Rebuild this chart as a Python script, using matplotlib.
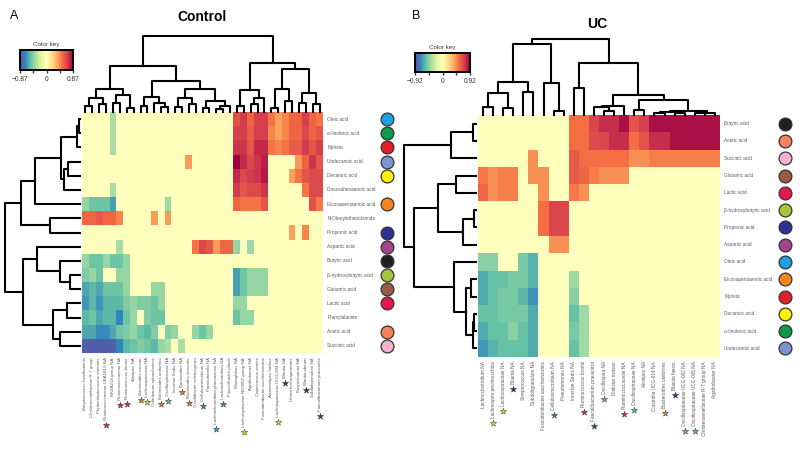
import numpy as np
import matplotlib
matplotlib.use('Agg')
import matplotlib.pyplot as plt
from matplotlib import colors, cm
from matplotlib.transforms import blended_transform_factory

plt.rcParams['font.family'] = ['Liberation Sans', 'DejaVu Sans']

# ---------------- data: Control ----------------
ctrl_rows = ['Oleic acid', 'α-linolenic acid', 'Myristic', 'Undecanoic acid', 'Decanoic acid',
             'Docosahexaenoic acid', 'Eicosapentaenoic acid', 'N-Oleoylethanolamide', 'Propionic acid',
             'Aspartic acid', 'Butyric acid', 'β-hydroxybutyric acid', 'Glutamic acid', 'Lactic acid',
             'Phenylalanine', 'Acetic acid', 'Succinic acid']

ctrl_cols = ['Butyricicoccus faecihominis', 'Christensenellaceae R-7 group', 'Peptostreptococcus stomatis',
             'Ruminococcaceae UBA1819 NA', 'NK4A214 group NA', 'Ruminococcaceae NA', 'Ruminococcus bromii',
             'Alistipes NA', 'Bacteroides caccae', 'Lachnospiraceae NA', 'Odoribacter splanchnicus',
             'Bacteroides uniformis', 'Oscillospiraceae NA', 'Incertae Sedis NA', 'Bacteroides NA',
             'Bacteroides stercoris', 'Oscillibacter valericigenes', 'Cellulosimicrobium NA',
             'Parasutterella NA', 'Lachnoclostridium phocaeense NA', 'Lachnoclostridium NA',
             'Flavonifractor plautii', 'Monoglobus NA', 'Lachnospiraceae ND3007 group NA',
             'Agathobacter NA', 'Coprococcus comes', 'Fusicatenibacter saccharivorans',
             'Anaerostipes hadrus', 'Lachnospiraceae UCG-004 NA', 'Blautia NA', 'Dorea formicigenerans',
             'Butyricimonas NA', 'Blautia obeum', 'Subdoligranulum NA', 'Faecalibacterium prausnitzii']

# non-zero correlations (row index -> {column index: r})
ctrl_cells = [
    {4: -0.35, 22: 0.62, 23: 0.7, 24: 0.55, 25: 0.68, 26: 0.68, 27: 0.5, 28: 0.38, 29: 0.45, 30: 0.55, 31: 0.55, 32: 0.68, 33: 0.55, 34: 0.5},
    {4: -0.35, 22: 0.68, 23: 0.68, 24: 0.58, 25: 0.68, 26: 0.68, 27: 0.45, 28: 0.38, 29: 0.45, 30: 0.55, 31: 0.55, 32: 0.65, 33: 0.55, 34: 0.6},
    {4: -0.35, 22: 0.72, 23: 0.72, 24: 0.6, 25: 0.75, 26: 0.75, 27: 0.5, 28: 0.45, 29: 0.5, 30: 0.58, 31: 0.58, 32: 0.7, 33: 0.6, 34: 0.68},
    {15: 0.4, 22: 0.87, 23: 0.75, 24: 0.65, 25: 0.72, 26: 0.78, 31: 0.4, 32: 0.55, 33: 0.72, 34: 0.6},
    {22: 0.75, 23: 0.65, 24: 0.7, 25: 0.72, 26: 0.8, 30: 0.38, 31: 0.5, 32: 0.6, 33: 0.65, 34: 0.65},
    {4: -0.35, 22: 0.7, 23: 0.6, 24: 0.65, 25: 0.65, 26: 0.72, 32: 0.5, 33: 0.65, 34: 0.65},
    {0: -0.4, 1: -0.5, 2: -0.5, 3: -0.5, 4: -0.62, 12: -0.38, 22: 0.55, 23: 0.5, 24: 0.5, 25: 0.5, 26: 0.6, 33: 0.62, 34: 0.5},
    {0: 0.55, 1: 0.55, 2: 0.6, 3: 0.55, 4: 0.55, 5: 0.45, 10: 0.4, 12: 0.4},
    {30: 0.38, 32: 0.45},
    {5: -0.35, 16: 0.5, 17: 0.65, 18: 0.6, 19: 0.4, 20: 0.55, 21: 0.55, 22: -0.4, 24: -0.38},
    {0: -0.4, 1: -0.5, 2: -0.5, 3: -0.4, 4: -0.5, 5: -0.5, 6: -0.4},
    {0: -0.45, 1: -0.4, 2: -0.5, 5: -0.4, 6: -0.4, 22: -0.62, 23: -0.5, 24: -0.4, 25: -0.4, 26: -0.4},
    {0: -0.6, 1: -0.55, 2: -0.6, 3: -0.5, 4: -0.5, 5: -0.5, 6: -0.4, 10: -0.4, 11: -0.4, 22: -0.62, 23: -0.5, 24: -0.4, 25: -0.4, 26: -0.4},
    {0: -0.65, 1: -0.55, 2: -0.65, 3: -0.55, 4: -0.55, 5: -0.55, 6: -0.45, 7: -0.4, 8: -0.45, 9: -0.45, 10: -0.5, 11: -0.4, 22: -0.4, 23: -0.4},
    {0: -0.55, 1: -0.5, 2: -0.6, 3: -0.55, 4: -0.55, 5: -0.7, 6: -0.5, 7: -0.4, 9: -0.45, 10: -0.5, 11: -0.5, 22: -0.5, 23: -0.4, 24: -0.4},
    {0: -0.6, 1: -0.6, 2: -0.68, 3: -0.68, 4: -0.6, 5: -0.5, 6: -0.45, 7: -0.4, 8: -0.5, 9: -0.55, 10: -0.45, 12: -0.45, 13: -0.4, 16: -0.4, 17: -0.5, 18: -0.4},
    {0: -0.82, 1: -0.82, 2: -0.82, 3: -0.82, 4: -0.82, 5: -0.7, 6: -0.55, 7: -0.5, 8: -0.45, 9: -0.5, 10: -0.55, 11: -0.4, 12: -0.35, 14: -0.35},
]

ctrl_stars = {3: 'crimson', 5: 'crimson', 6: 'crimson', 8: 'orange', 9: 'yellow', 11: 'orange',
              12: 'teal', 14: 'orange', 15: 'orange', 17: 'green', 19: 'blue', 20: 'blue',
              23: 'yellow', 28: 'yellow', 29: 'navy', 32: 'navy', 34: 'darkgreen'}

# dendrograms: [left, right, height], leaves are display positions
ctrl_col_tree = [
    [[[[0, 1, 0.08], [2, 3, 0.1], 0.19], [[4, 5, 0.12], [6, 7, 0.05], 0.22], 0.3],
     [[[8, 9, 0.08], [10, [11, 12, 0.06], 0.12], 0.2],
      [[[13, 14, 0.07], [15, 16, 0.1], 0.18], [[17, 18, 0.05], [[19, 20, 0.04], 21, 0.08], 0.15], 0.3], 0.41], 0.6],
    [[[22, 23, 0.08], [[24, 25, 0.1], 26, 0.18], 0.29],
     [[[27, 28, 0.05], [29, 30, 0.15], 0.3], [[31, 32, 0.12], [33, 34, 0.1], 0.25], 0.56], 0.64],
    1.0]
ctrl_row_tree = [
    [[[[[0, 1, 0.015], 2, 0.04], [[3, 4, 0.16], 5, 0.22], 0.26], 6, 0.6], [7, 8, 0.4], 0.79],
    [[9, [10, [11, 12, 0.13], 0.27], 0.57], [[13, 14, 0.17], [15, 16, 0.27], 0.36], 0.76],
    1.0]

# ---------------- data: UC ----------------
uc_rows = ['Butyric acid', 'Acetic acid', 'Succinic acid', 'Glutamic acid', 'Lactic acid',
           'β-hydroxybutyric acid', 'Propionic acid', 'Aspartic acid', 'Oleic acid',
           'Eicosapentaenoic acid', 'Myristic', 'Decanoic acid', 'α-linolenic acid', 'Undecanoic acid']

uc_cols = ['Lachnoclostridium NA', 'Lachnospira pectinoschiza', 'Lachnospiraceae NA', 'Blautia NA',
           'Streptococcus NA', 'Subdoligranulum NA', 'Fusicatenibacter saccharivorans',
           'Cellulosimicrobium NA', 'Pseudomonas NA', 'Incertae Sedis NA', 'Ruminococcus bromii',
           'Faecalibacterium prausnitzii', 'Oscillospira NA', 'Dialister invisus', 'Ruminococcaceae NA',
           'Oscillospiraceae NA', 'Alistipes NA', 'Clostridia UCG-014 NA', 'Bacteroides uniformis',
           'Blautia faecis', 'Oscillospiraceae UCG-002 NA', 'Oscillospiraceae UCG-005 NA',
           'Christensenellaceae R-7 group NA', 'Agathobacter NA']

uc_cells = [
    {9: 0.55, 10: 0.55, 11: 0.7, 12: 0.78, 13: 0.78, 14: 0.87, 15: 0.65, 16: 0.72, 17: 0.87, 18: 0.87, 19: 0.87, 20: 0.87, 21: 0.87, 22: 0.87, 23: 0.87},
    {9: 0.55, 10: 0.55, 11: 0.68, 12: 0.7, 13: 0.78, 14: 0.78, 15: 0.55, 16: 0.65, 17: 0.78, 18: 0.78, 19: 0.87, 20: 0.87, 21: 0.87, 22: 0.87, 23: 0.87},
    {5: 0.45, 9: 0.62, 10: 0.55, 11: 0.55, 12: 0.55, 13: 0.55, 14: 0.55, 15: 0.45, 16: 0.45, 17: 0.5, 18: 0.5, 19: 0.5, 20: 0.5, 21: 0.5, 22: 0.5, 23: 0.5},
    {0: 0.52, 1: 0.45, 2: 0.5, 3: 0.5, 5: 0.45, 6: 0.45, 9: 0.62, 10: 0.58, 11: 0.5, 12: 0.45, 13: 0.45, 14: 0.45},
    {0: 0.58, 1: 0.45, 2: 0.5, 3: 0.5, 6: 0.45, 9: 0.52, 10: 0.45},
    {6: 0.55, 7: 0.7, 8: 0.7},
    {6: 0.55, 7: 0.7, 8: 0.7},
    {7: 0.45, 8: 0.45},
    {0: -0.45, 1: -0.45, 4: -0.5, 5: -0.6},
    {0: -0.62, 1: -0.55, 2: -0.55, 3: -0.5, 4: -0.5, 5: -0.6, 9: -0.4},
    {0: -0.62, 1: -0.55, 2: -0.5, 3: -0.5, 4: -0.58, 5: -0.7, 9: -0.45},
    {0: -0.55, 1: -0.55, 2: -0.5, 3: -0.5, 4: -0.5, 5: -0.62, 9: -0.55, 10: -0.4},
    {0: -0.62, 1: -0.55, 2: -0.55, 3: -0.45, 4: -0.55, 5: -0.62, 9: -0.5, 10: -0.4},
    {0: -0.68, 1: -0.6, 2: -0.55, 3: -0.55, 4: -0.55, 5: -0.62, 9: -0.55, 10: -0.4},
]

uc_stars = {1: 'yellow', 2: 'yellow', 3: 'navy', 7: 'green', 10: 'crimson', 11: 'darkgreen',
            12: 'teal', 14: 'crimson', 15: 'teal', 18: 'orange', 19: 'navy', 20: 'teal', 21: 'teal'}

uc_col_tree = [
    [[[[0, 1, 0.1], [2, 3, 0.09], 0.29], [4, 5, 0.3], 0.43], [6, [7, 8, 0.05], 0.42], 0.93],
    [[9, 10, 0.35],
     [[[11, [12, 13, 0.05], 0.1], 14, 0.12],
      [[15, 16, 0.06], [[[17, 18, 0.03], [19, 20, 0.03], 0.04], [[21, 22, 0.02], 23, 0.03], 0.05], 0.2], 0.26], 0.68],
    1.0]
uc_row_tree = [
    [[0, 1, 0.04], 2, 0.35],
    [[[3, 4, 0.28], [[5, 6, 0.03], 7, 0.18], 0.53],
     [8, [[9, 10, 0.07], [[11, 12, 0.03], 13, 0.04], 0.14], 0.31], 0.86],
    1.0]

# colours of metabolites (circles) and taxa stars
metab_colors = {'Oleic acid': '#1ba1e2', 'α-linolenic acid': '#0f9a47', 'Myristic': '#e31f26',
                'Undecanoic acid': '#7b93d0', 'Decanoic acid': '#fff200', 'Eicosapentaenoic acid': '#f6851f',
                'Propionic acid': '#2e3192', 'Aspartic acid': '#a4448e', 'Butyric acid': '#231f20',
                'β-hydroxybutyric acid': '#a6c73a', 'Glutamic acid': '#9b5a44', 'Lactic acid': '#e8174f',
                'Acetic acid': '#f4845f', 'Succinic acid': '#f5b1d0'}
star_colors = {'crimson': '#e0204f', 'orange': '#e8852a', 'yellow': '#f3e21f', 'teal': '#5cbfa8',
               'green': '#2a9a48', 'blue': '#2a9ad8', 'navy': '#2c2a80', 'darkgreen': '#0d5a3a'}

W, H = 800, 450
cmap = plt.get_cmap('Spectral_r')


def px_axes(fig, x0, y0, x1, y1):
    return fig.add_axes([x0 / W, 1 - y1 / H, (x1 - x0) / W, (y1 - y0) / H])


def draw_tree(ax, node, orient):
    if isinstance(node, int):
        return node + 0.5, 0.0
    left, right, h = node
    pl, hl = draw_tree(ax, left, orient)
    pr, hr = draw_tree(ax, right, orient)
    if orient == 'top':
        ax.plot([pl, pl, pr, pr], [hl, h, h, hr], color='black', lw=1.5, clip_on=False)
    else:
        ax.plot([hl, h, h, hr], [pl, pl, pr, pr], color='black', lw=1.5, clip_on=False)
    return (pl + pr) / 2, h


def to_matrix(cells, ncol):
    mat = np.zeros((len(cells), ncol))
    for i, row in enumerate(cells):
        for j, v in row.items():
            mat[i, j] = v
    return mat


def panel(fig, rows, cols, cells, stars, col_tree, row_tree, box, vmax, circle_off, col_fs):
    x0, y0, x1, y1, dend_w, dend_h = box
    mat = to_matrix(cells, len(cols))
    ax = px_axes(fig, x0, y0, x1, y1)
    ax.imshow(mat, cmap=cmap, vmin=-vmax, vmax=vmax, aspect='auto', interpolation='nearest')
    ax.axis('off')

    # top dendrogram
    axt = px_axes(fig, x0, y0 - dend_h, x1, y0)
    draw_tree(axt, col_tree, 'top')
    axt.set_xlim(0, len(cols))
    axt.set_ylim(0, 1)
    axt.axis('off')

    # left dendrogram
    axl = px_axes(fig, x0 - 2 - dend_w, y0, x0 - 2, y1)
    draw_tree(axl, row_tree, 'left')
    axl.set_xlim(1, 0)
    axl.set_ylim(len(rows), 0)
    axl.axis('off')

    # row labels and metabolite circles
    tr = blended_transform_factory(ax.transAxes, ax.transData)
    for i, name in enumerate(rows):
        ax.annotate(name, xy=(1, i), xycoords=tr, xytext=(3, 0), textcoords='offset points',
                    ha='left', va='center', fontsize=3.4, color='#5a5a5a')
        if name in metab_colors:
            ax.scatter([1 + circle_off], [i], s=85, color=metab_colors[name], edgecolor='#333333',
                       lw=0.9, transform=tr, clip_on=False, zorder=5)

    # column labels
    trc = blended_transform_factory(ax.transData, ax.transAxes)
    labels = []
    for j, name in enumerate(cols):
        t = ax.annotate(name, xy=(j, 0), xycoords=trc, xytext=(0, -3), textcoords='offset points',
                        ha='center', va='top', rotation=90, fontsize=col_fs, color='#5a5a5a')
        labels.append(t)

    # stars under labels of associated taxa
    fig.canvas.draw()
    rend = fig.canvas.get_renderer()
    for j, key in stars.items():
        bb = labels[j].get_window_extent(renderer=rend)
        yb = ax.transAxes.inverted().transform((0, bb.y0 - 5))[1]
        ax.scatter([j], [yb], marker='*', s=22, color=star_colors[key], edgecolor='#333333',
                   lw=0.35, transform=trc, clip_on=False, zorder=5)
    return ax


def color_key(fig, box, vmax):
    cax = px_axes(fig, *box)
    sm = cm.ScalarMappable(norm=colors.Normalize(-vmax, vmax), cmap=cmap)
    cb = fig.colorbar(sm, cax=cax, orientation='horizontal')
    cb.set_ticks([-vmax, -vmax / 2, 0, vmax / 2, vmax])
    cb.set_ticklabels(['\u2212%.2f' % vmax, '', '0', '', '%.2f' % vmax])
    cb.outline.set_linewidth(1.4)
    cax.tick_params(labelsize=4.8, length=2.5, width=1, pad=2, colors='#333333')
    cax.set_title('Color key', fontsize=4.5, color='#333333', pad=3)


fig = plt.figure(figsize=(8, 4.5), dpi=100)

panel(fig, ctrl_rows, ctrl_cols, ctrl_cells, ctrl_stars, ctrl_col_tree, ctrl_row_tree,
      (82, 112, 323, 353, 75, 76), 0.87, 64 / 241, 3.2)
panel(fig, uc_rows, uc_cols, uc_cells, uc_stars, uc_col_tree, uc_row_tree,
      (478, 115, 720, 357, 72, 76), 0.92, 65 / 242, 3.4)

color_key(fig, (20, 50, 73, 70), 0.87)
color_key(fig, (415, 53, 470, 72), 0.92)

fig.text(10 / W, 1 - 16 / H, 'A', fontsize=9, va='center', ha='left')
fig.text(412 / W, 1 - 16 / H, 'B', fontsize=9, va='center', ha='left')
fig.text(202 / W, 1 - 17 / H, 'Control', fontsize=10, fontweight='bold', va='center', ha='center')
fig.text(597 / W, 1 - 24 / H, 'UC', fontsize=10, fontweight='bold', va='center', ha='center')

fig.savefig('out.png', dpi=100)
